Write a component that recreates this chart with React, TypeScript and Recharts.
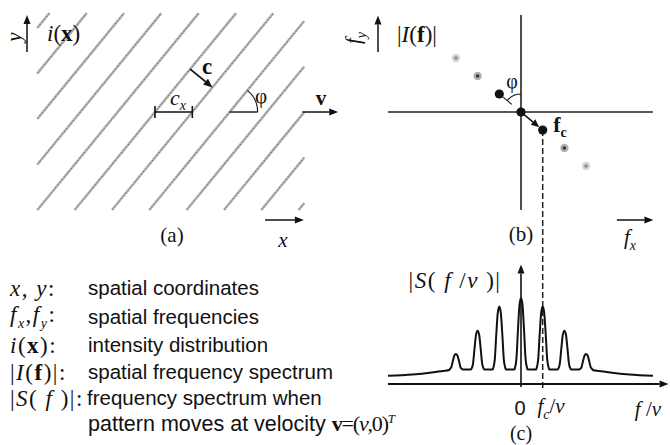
import React from "react"
import { ComposedChart, XAxis, YAxis, Line, Scatter, ReferenceLine, ReferenceDot } from "recharts"

// panel (a): grating lines, x unit = grating period c_x
const hatchOffsets = [-3, -2, -1, 0, 1, 2, 3, 4, 5, 6, 7, 8]
const hatchSlope = 1.22 // tan(phi)
const box = { x0: 1.0, x1: 8.15, y0: 0.375, y1: 5.65 }

// panel (b): spectral orders along f_c
const orders = [-3, -2, -1, 0, 1, 2, 3]
const orderMagnitude = [0.25, 0.55, 1, 1, 1, 0.55, 0.25]
const fc = { x: 1, y: -0.83 }

// panel (c): |S(f/v)|, f/v in units of f_c/v
const spectrum: [number, number][] = [
	[-6.13, 0.095], [-5.0, 0.11], [-4.2, 0.13], [-3.6, 0.152], [-3.3, 0.163],
	[-3.28, 0.174], [-3.21, 0.197], [-3.14, 0.269], [-3.07, 0.332], [-3.0, 0.35], [-2.93, 0.332], [-2.86, 0.269], [-2.79, 0.197], [-2.72, 0.174], [-2.7, 0.17],
	[-2.3, 0.17], [-2.28, 0.179], [-2.21, 0.238], [-2.14, 0.418], [-2.07, 0.575], [-2.0, 0.62], [-1.93, 0.575], [-1.86, 0.418], [-1.79, 0.238], [-1.72, 0.179], [-1.7, 0.17],
	[-1.3, 0.17], [-1.28, 0.185], [-1.21, 0.28], [-1.14, 0.572], [-1.07, 0.827], [-1.0, 0.9], [-0.93, 0.827], [-0.86, 0.572], [-0.79, 0.28], [-0.72, 0.185], [-0.7, 0.17],
	[-0.3, 0.17], [-0.28, 0.187], [-0.21, 0.295], [-0.14, 0.627], [-0.07, 0.917], [0, 1.0], [0.07, 0.917], [0.14, 0.627], [0.21, 0.295], [0.28, 0.187], [0.3, 0.17],
	[0.7, 0.17], [0.72, 0.185], [0.79, 0.28], [0.86, 0.572], [0.93, 0.827], [1.0, 0.9], [1.07, 0.827], [1.14, 0.572], [1.21, 0.28], [1.28, 0.185], [1.3, 0.17],
	[1.7, 0.17], [1.72, 0.179], [1.79, 0.238], [1.86, 0.418], [1.93, 0.575], [2.0, 0.62], [2.07, 0.575], [2.14, 0.418], [2.21, 0.238], [2.28, 0.179], [2.3, 0.17],
	[2.7, 0.17], [2.72, 0.174], [2.79, 0.197], [2.86, 0.269], [2.93, 0.332], [3.0, 0.35], [3.07, 0.332], [3.14, 0.269], [3.21, 0.197], [3.28, 0.174], [3.3, 0.163],
	[3.6, 0.152], [4.2, 0.13], [5.0, 0.11], [6.08, 0.095],
]

const legendRows = [
	{ sym: <><i>x</i>, <i>y</i>:</>, text: "spatial coordinates" },
	{ sym: <><i>f</i><sub style={{ fontSize: 14 }}><i>x</i></sub>,<i>f</i><sub style={{ fontSize: 14 }}><i>y</i></sub>:</>, text: "spatial frequencies" },
	{ sym: <><i>i</i>(<b>x</b>):</>, text: "intensity distribution" },
	{ sym: <>|<i>I</i>(<b>f</b>)|:</>, text: "spatial frequency spectrum" },
	{ sym: <>|<i>S</i>( <i>f</i> )|:</>, text: "frequency spectrum when" },
]
const legendY = [288, 317, 345, 372, 398]

const SERIF = '"Liberation Serif", "Times New Roman", serif'
const SANS = '"Liberation Sans", Arial, sans-serif'
const INK = "#111"

const PXA = 37.33
const A_W = 364, A_H = 224
const PXF = 21.7
const R_LEFT = 369, R_W = 301, R_H = 445
const R_OX = 521 - R_LEFT, R_OY = 112, S_Y0 = 384, PXS = 86

const hatchX = (k: number, y: number) => k + (y - box.y0) / hatchSlope

const hatchSegments = hatchOffsets
	.map((k) => {
		let a = { x: k, y: box.y0 }
		if (k < box.x0) a = { x: box.x0, y: box.y0 + (box.x0 - k) * hatchSlope }
		let b = { x: hatchX(k, box.y1), y: box.y1 }
		if (b.x > box.x1) b = { x: box.x1, y: box.y0 + (box.x1 - k) * hatchSlope }
		return [a, b]
	})
	.filter(([a, b]) => a.y < b.y)

const arrow = (w = 1.5, head = 9, half = 3.5, color = INK) => (p: any) => {
	const { x1, y1, x2, y2 } = p
	const a = Math.atan2(y2 - y1, x2 - x1)
	const bx = x2 - head * Math.cos(a)
	const by = y2 - head * Math.sin(a)
	const nx = -Math.sin(a) * half
	const ny = Math.cos(a) * half
	return (
		<g>
			<line x1={x1} y1={y1} x2={bx} y2={by} stroke={color} strokeWidth={w} />
			<polygon points={`${x2},${y2} ${bx + nx},${by + ny} ${bx - nx},${by - ny}`} fill={color} />
		</g>
	)
}

// textured grey grating line
const hatchShape = (p: any) => (
	<g strokeLinecap="butt">
		<line x1={p.x1} y1={p.y1} x2={p.x2} y2={p.y2} stroke="#b4b4b4" strokeWidth={2.6} />
		<line x1={p.x1} y1={p.y1} x2={p.x2} y2={p.y2} stroke="#6e6e6e" strokeWidth={1} strokeDasharray="1.5 2" />
	</g>
)

const barWithTicks = (p: any) => (
	<g stroke={INK} strokeWidth={1.6}>
		<line x1={p.x1} y1={p.y1} x2={p.x2} y2={p.y2} />
		<line x1={p.x1} y1={p.y1 - 6} x2={p.x1} y2={p.y1 + 6} />
		<line x1={p.x2} y1={p.y2 - 6} x2={p.x2} y2={p.y2 + 6} />
	</g>
)

const arcShape = (r: number, a0: number, a1: number, tick?: [number, number]) => (p: any) => {
	const { cx, cy } = p
	const rad = Math.PI / 180
	const sx = cx + r * Math.cos(a0 * rad), sy = cy - r * Math.sin(a0 * rad)
	const ex = cx + r * Math.cos(a1 * rad), ey = cy - r * Math.sin(a1 * rad)
	return (
		<g fill="none" stroke={INK} strokeWidth={1.1}>
			<path d={`M${sx},${sy} A${r},${r} 0 0 0 ${ex},${ey}`} />
			{tick && (
				<line
					x1={cx + tick[0] * Math.cos(a1 * rad)} y1={cy - tick[0] * Math.sin(a1 * rad)}
					x2={cx + tick[1] * Math.cos(a1 * rad)} y2={cy - tick[1] * Math.sin(a1 * rad)}
				/>
			)}
		</g>
	)
}

const orderDot = (p: any) => {
	const m = p.payload.m
	if (m >= 1) return <circle cx={p.cx} cy={p.cy} r={4.6} fill={INK} />
	const halo = m > 0.4 ? "#b0b0b0" : "#d4d4d4"
	const core = m > 0.4 ? "#333" : "#8a8a8a"
	return (
		<g>
			<circle cx={p.cx} cy={p.cy} r={4.2} fill={halo} />
			<circle cx={p.cx} cy={p.cy} r={1.8} fill={core} />
		</g>
	)
}

function T({ x, y, size = 21, font = SERIF, rotate, anchor = "center", style, children }: any) {
	const tx = anchor === "left" ? "0" : "-50%"
	return (
		<div
			style={{
				position: "absolute", left: x, top: y, fontFamily: font, fontSize: size, lineHeight: 1,
				whiteSpace: "nowrap", color: INK,
				transform: `translate(${tx}, -50%)${rotate ? ` rotate(${rotate}deg)` : ""}`,
				...style,
			}}
		>
			{children}
		</div>
	)
}

export default function App() {
	const dots = orders.map((n, i) => ({ x: n * fc.x, y: n * fc.y, m: orderMagnitude[i] }))
	const specData = spectrum.map(([x, s]) => ({ x, s }))
	const phiA = (Math.atan(hatchSlope) * 180) / Math.PI
	const phiB = (Math.atan2(-fc.y, -fc.x) * 180) / Math.PI
	const theta = Math.atan(hatchSlope)
	const cStart = { x: hatchX(2, 4.15), y: 4.15 }
	const cEnd = { x: cStart.x + Math.sin(theta) * Math.sin(theta), y: cStart.y - Math.sin(theta) * Math.cos(theta) }

	return (
		<div style={{ position: "absolute", left: 0, top: 0, width: 670, height: 445, background: "#fff", overflow: "hidden" }}>
			{/* (a) grating */}
			<div style={{ position: "absolute", left: 0, top: 0 }}>
				<ComposedChart width={A_W} height={A_H} margin={{ top: 0, right: 0, bottom: 0, left: 0 }}>
					<XAxis type="number" dataKey="x" domain={[0, A_W / PXA]} scale="linear" allowDataOverflow hide />
					<YAxis type="number" dataKey="y" domain={[0, A_H / PXA]} scale="linear" allowDataOverflow hide />
					{hatchSegments.map((seg, i) => (
						<ReferenceLine key={i} segment={seg} shape={hatchShape} ifOverflow="visible" />
					))}
					<ReferenceLine segment={[{ x: 27 / PXA, y: 4.607 }, { x: 27 / PXA, y: 5.6 }]} shape={arrow(1.5, 9, 3.5)} ifOverflow="visible" />
					<ReferenceLine segment={[{ x: 7.1, y: 0.107 }, { x: 8.14, y: 0.107 }]} shape={arrow(1.5, 9, 3.5)} ifOverflow="visible" />
					<ReferenceLine segment={[{ x: 8.1, y: 3.0 }, { x: 9.06, y: 3.0 }]} shape={arrow(1.5, 9, 3.5)} ifOverflow="visible" />
					<ReferenceLine segment={[{ x: hatchX(2, 3.0), y: 3.0 }, { x: hatchX(3, 3.0), y: 3.0 }]} shape={barWithTicks} ifOverflow="visible" />
					<ReferenceLine segment={[{ x: hatchX(4, 3.0), y: 3.0 }, { x: hatchX(4, 3.0) + 0.75, y: 3.0 }]} stroke={INK} strokeWidth={1.4} ifOverflow="visible" />
					<ReferenceDot x={hatchX(4, 3.0)} y={3.0} r={0} shape={arcShape(0.75 * PXA, 0, phiA)} ifOverflow="visible" />
					<ReferenceLine segment={[cStart, cEnd]} shape={arrow(1.8, 9, 3.8)} ifOverflow="visible" />
				</ComposedChart>
			</div>

			{/* (b) spatial spectrum + (c) temporal spectrum, shared f axis */}
			<div style={{ position: "absolute", left: R_LEFT, top: 0 }}>
				<ComposedChart width={R_W} height={R_H} margin={{ top: 0, right: 0, bottom: 0, left: 0 }}>
					<XAxis type="number" dataKey="x" domain={[-R_OX / PXF, (R_W - R_OX) / PXF]} scale="linear" allowDataOverflow hide />
					<YAxis yAxisId="fy" type="number" dataKey="y" domain={[-(R_H - R_OY) / PXF, R_OY / PXF]} scale="linear" allowDataOverflow hide />
					<YAxis yAxisId="S" type="number" dataKey="s" domain={[-(R_H - S_Y0) / PXS, S_Y0 / PXS]} scale="linear" allowDataOverflow hide />

					<ReferenceLine yAxisId="fy" segment={[{ x: 0, y: 4.47 }, { x: 0, y: -4.52 }]} stroke="#222" strokeWidth={1.6} ifOverflow="visible" />
					<ReferenceLine yAxisId="fy" segment={[{ x: -6.13, y: 0 }, { x: 6.08, y: 0 }]} stroke="#222" strokeWidth={1.6} ifOverflow="visible" />
					<ReferenceLine yAxisId="fy" segment={[{ x: -6.59, y: 2.765 }, { x: -6.59, y: 4.45 }]} shape={arrow(1.5, 9, 3.5)} ifOverflow="visible" />
					<ReferenceLine yAxisId="fy" segment={[{ x: 4.42, y: -4.977 }, { x: 6.1, y: -4.977 }]} shape={arrow(1.5, 9, 3.5)} ifOverflow="visible" />
					<ReferenceLine yAxisId="fy" segment={[{ x: fc.x, y: fc.y }, { x: fc.x, y: -12.72 }]} stroke="#222" strokeWidth={1.5} strokeDasharray="6 3" ifOverflow="visible" />
					<ReferenceLine yAxisId="fy" segment={[{ x: 0, y: 0 }, { x: 0.84 * fc.x, y: 0.84 * fc.y }]} shape={arrow(1.6, 8, 3.5)} ifOverflow="visible" />
					<ReferenceDot yAxisId="fy" x={0} y={0} r={0} shape={arcShape(18, 90, phiB, [12, 24])} ifOverflow="visible" />
					<Scatter yAxisId="fy" data={dots} shape={orderDot} isAnimationActive={false} />

					<ReferenceLine yAxisId="S" segment={[{ x: -6.13, y: 0 }, { x: 6.8, y: 0 }]} shape={arrow(2, 9, 3.5)} ifOverflow="visible" />
					<ReferenceLine yAxisId="S" segment={[{ x: 0, y: -0.035 }, { x: 0, y: 1.39 }]} shape={arrow(1.6, 9, 3.5)} ifOverflow="visible" />
					<Line yAxisId="S" data={specData} dataKey="s" type="monotone" stroke={INK} strokeWidth={2} dot={false} activeDot={false} isAnimationActive={false} />
				</ComposedChart>
			</div>

			{/* panel (a) labels */}
			<T x={14} y={37} rotate={-90}><i>y</i></T>
			<T x={47} y={33} size={23} anchor="left"><i>i</i>(<b>x</b>)</T>
			<T x={207} y={66} size={23}><b>c</b></T>
			<T x={178} y={100} size={22}><i>c</i><sub style={{ fontSize: 14 }}><i>x</i></sub></T>
			<T x={261} y={96}>φ</T>
			<T x={321} y={98}><b>v</b></T>
			<T x={283} y={240}><i>x</i></T>
			<T x={172} y={235}>(a)</T>

			{/* panel (b) labels */}
			<T x={356} y={38} rotate={-90}><i>f</i><sub style={{ fontSize: 14 }}><i>y</i></sub></T>
			<T x={397} y={34} size={23} anchor="left">|<i>I</i>(<b>f</b>)|</T>
			<T x={512} y={81} size={20}>φ</T>
			<T x={560} y={127} size={22}><b>f<sub style={{ fontSize: 14 }}>c</sub></b></T>
			<T x={630} y={240}><i>f</i><sub style={{ fontSize: 14 }}><i>x</i></sub></T>
			<T x={521} y={234}>(b)</T>

			{/* panel (c) labels */}
			<T x={455} y={280} size={23} style={{ letterSpacing: 1.5 }}>|<i>S</i>( <i>f</i> /<i>v</i> )|</T>
			<T x={520} y={408} size={20} font={SANS}>0</T>
			<T x={551} y={409}><i>f</i><sub style={{ fontSize: 14 }}><i>c</i></sub>/<i>v</i></T>
			<T x={648} y={409}><i>f</i> /<i>v</i></T>
			<T x={521} y={433} size={20}>(c)</T>

			{/* legend */}
			{legendRows.map((r, i) => (
				<React.Fragment key={i}>
					<T x={10} y={legendY[i]} size={23} anchor="left" style={{ letterSpacing: 1.5 }}>{r.sym}</T>
					<T x={i === 4 ? 87 : 88} y={legendY[i]} size={20.5} font={SANS} anchor="left">{r.text}</T>
				</React.Fragment>
			))}
			<T x={88} y={424} size={21.5} font={SANS} anchor="left">
				pattern moves at velocity{" "}
				<span style={{ fontFamily: SERIF, fontSize: 22, letterSpacing: -1.2 }}><b>v</b>=(<i>v</i>,0)<sup style={{ fontSize: 13 }}><i>T</i></sup></span>
			</T>
		</div>
	)
}
